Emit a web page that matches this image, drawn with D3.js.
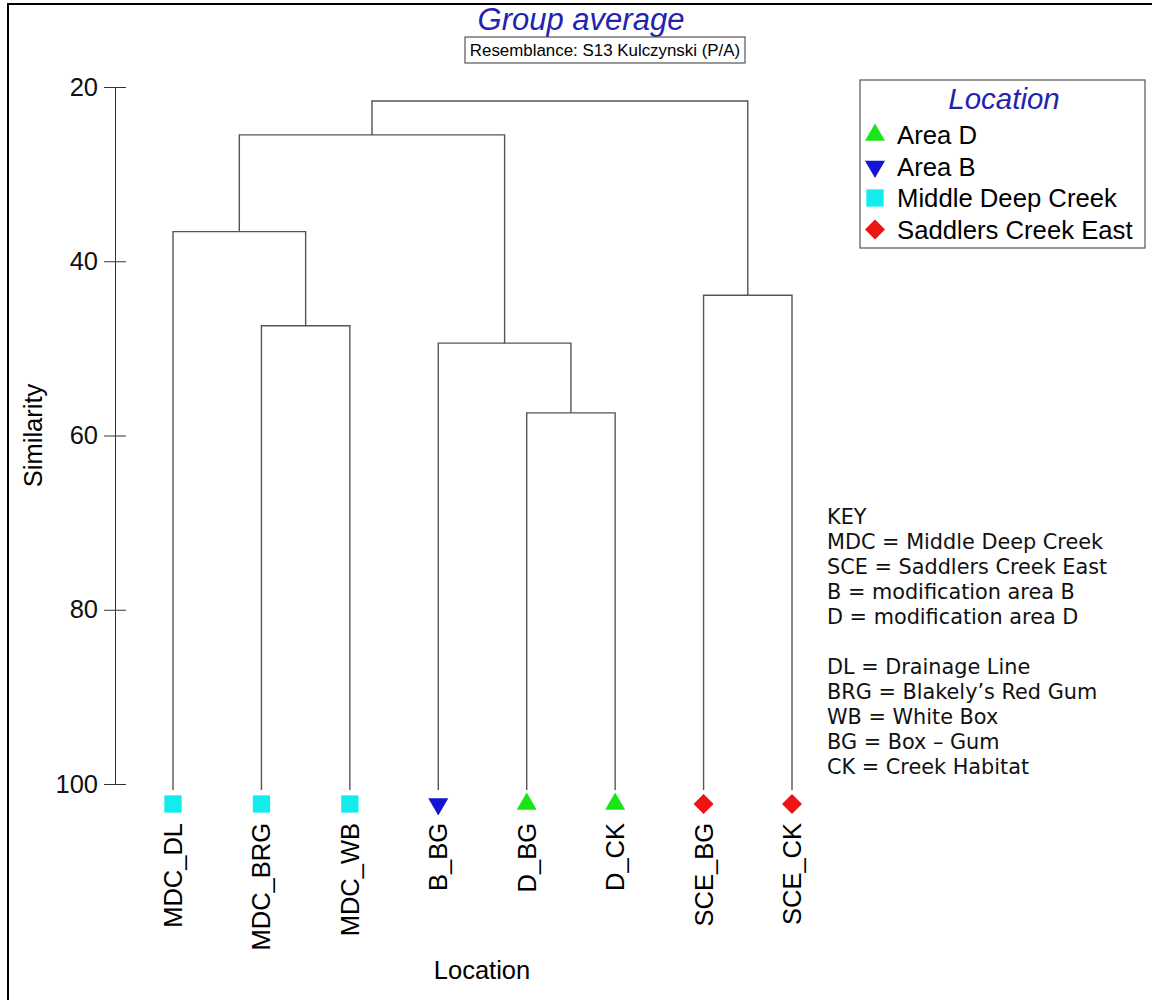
<!DOCTYPE html>
<html>
<head>
<meta charset="utf-8">
<script src="https://cdn.jsdelivr.net/npm/d3@7"></script>
<style>
  body { margin: 0; background: #fff; }
  text { font-family: "Liberation Sans", Arial, sans-serif; }
</style>
</head>
<body>
<script>
// leaves of the dendrogram, left to right
var leaves = ["MDC_DL", "MDC_BRG", "MDC_WB", "B_BG", "D_BG", "D_CK", "SCE_BG", "SCE_CK"];
var leafGroup = ["Middle Deep Creek", "Middle Deep Creek", "Middle Deep Creek", "Area B",
                 "Area D", "Area D", "Saddlers Creek East", "Saddlers Creek East"];

// merges: [left node, right node, similarity]; new nodes numbered from leaves.length
var merges = [
  [1, 2, 47.4],
  [0, 8, 36.6],
  [4, 5, 57.4],
  [3, 10, 49.4],
  [9, 11, 25.5],
  [6, 7, 43.9],
  [12, 13, 21.6]
];

var yTicks = [20, 40, 60, 80, 100];
var groups = ["Area D", "Area B", "Middle Deep Creek", "Saddlers Creek East"];
var keyLines = ["KEY", "MDC = Middle Deep Creek", "SCE = Saddlers Creek East",
  "B = modification area B", "D = modification area D", "",
  "DL = Drainage Line", "BRG = Blakely\u2019s Red Gum", "WB = White Box",
  "BG = Box \u2013 Gum", "CK = Creek Habitat"];

var svgWidth = 1152, svgHeight = 1000;

var svg = d3.select("body").append("svg")
  .attr("width", svgWidth)
  .attr("height", svgHeight);

// frame (left + top edges show in the picture)
svg.append("path")
  .attr("d", "M8,1000 V4 H1152")
  .attr("fill", "none")
  .attr("stroke", "#000")
  .attr("stroke-width", 2);

var x = d3.scalePoint().domain(leaves).range([173, 792]);
var y = d3.scaleLinear().domain([20, 100]).range([87, 784]);

var symbolFor = {
  "Area D": { type: d3.symbolTriangle, size: 175, rot: 0, color: "#19e619" },
  "Area B": { type: d3.symbolTriangle, size: 175, rot: 180, color: "#1414d2" },
  "Middle Deep Creek": { type: d3.symbolSquare, size: 300, rot: 0, color: "#14ecec" },
  "Saddlers Creek East": { type: d3.symbolSquare, size: 200, rot: 45, color: "#ee1414" }
};

// y axis
var yAxis = svg.append("g")
  .attr("transform", "translate(115,0)")
  .call(d3.axisLeft(y).tickValues(yTicks).tickSize(11).tickPadding(6).tickSizeOuter(0));
yAxis.select(".domain").attr("stroke", "#333");
yAxis.selectAll(".tick line").attr("x1", 11).attr("x2", -11).attr("stroke", "#333");
yAxis.selectAll(".tick text")
  .style("font-size", "25.5px")
  .style("font-family", "'Liberation Sans', Arial, sans-serif")
  .attr("fill", "#111");

svg.append("text")
  .attr("transform", "translate(42," + (y(60)) + ") rotate(-90)")
  .attr("text-anchor", "middle")
  .style("font-size", "25.5px")
  .text("Similarity");

// dendrogram nodes
var nodes = leaves.map(function(d, i) { return { x: x(d), h: 100 }; });
var tree = svg.append("g")
  .attr("fill", "none")
  .attr("stroke", "#555")
  .attr("stroke-width", 1.4);

merges.forEach(function(m) {
  var a = nodes[m[0]], b = nodes[m[1]], h = m[2];
  tree.append("path")
    .attr("d", "M" + a.x + "," + y(a.h) + " V" + y(h) + " H" + b.x + " V" + y(b.h));
  nodes.push({ x: (a.x + b.x) / 2, h: h });
});

// leaf ends down to the markers
tree.selectAll(".leafline")
  .data(leaves)
  .enter().append("line")
  .attr("x1", d => x(d)).attr("x2", d => x(d))
  .attr("y1", y(100)).attr("y2", y(100) + 6);

// leaf markers
svg.selectAll(".marker")
  .data(leaves)
  .enter().append("path")
  .attr("class", "marker")
  .attr("transform", (d, i) => "translate(" + x(d) + "," + (y(100) + 20) + ") rotate(" + symbolFor[leafGroup[i]].rot + ")")
  .attr("d", (d, i) => d3.symbol().type(symbolFor[leafGroup[i]].type).size(symbolFor[leafGroup[i]].size)())
  .attr("fill", (d, i) => symbolFor[leafGroup[i]].color);

// leaf labels
svg.selectAll(".leaflabel")
  .data(leaves)
  .enter().append("text")
  .attr("transform", d => "translate(" + (x(d) + 9) + ",823) rotate(-90)")
  .attr("text-anchor", "end")
  .style("font-size", "25.5px")
  .text(d => d);

svg.append("text")
  .attr("x", 482)
  .attr("y", 979)
  .attr("text-anchor", "middle")
  .style("font-size", "25.5px")
  .text("Location");

// title and resemblance box
svg.append("text")
  .attr("x", 581)
  .attr("y", 30)
  .attr("text-anchor", "middle")
  .style("font-size", "31px")
  .style("font-style", "italic")
  .attr("fill", "#2323b0")
  .text("Group average");

svg.append("rect")
  .attr("x", 465).attr("y", 37).attr("width", 280).attr("height", 26)
  .attr("fill", "#fff").attr("stroke", "#555").attr("stroke-width", 1.2);
svg.append("text")
  .attr("x", 605).attr("y", 56)
  .attr("text-anchor", "middle")
  .style("font-size", "16.9px")
  .text("Resemblance: S13 Kulczynski (P/A)");

// legend
var legend = svg.append("g");
legend.append("rect")
  .attr("x", 860).attr("y", 80).attr("width", 285).attr("height", 168)
  .attr("fill", "#fff").attr("stroke", "#555").attr("stroke-width", 1.2);
legend.append("text")
  .attr("x", 1004).attr("y", 109)
  .attr("text-anchor", "middle")
  .style("font-size", "29.5px")
  .style("font-style", "italic")
  .attr("fill", "#2323b0")
  .text("Location");

var entry = legend.selectAll(".entry")
  .data(groups)
  .enter().append("g")
  .attr("transform", (d, i) => "translate(0," + (144 + i * 31.5) + ")");
entry.append("path")
  .attr("transform", d => "translate(875,-9) rotate(" + symbolFor[d].rot + ")")
  .attr("d", d => d3.symbol().type(symbolFor[d].type).size(symbolFor[d].size)())
  .attr("fill", d => symbolFor[d].color);
entry.append("text")
  .attr("x", 897)
  .style("font-size", "25.7px")
  .text(d => d);

// key
svg.selectAll(".key")
  .data(keyLines)
  .enter().append("text")
  .attr("x", 827)
  .attr("y", (d, i) => 524 + i * 25)
  .style("font-family", "'DejaVu Sans', Verdana, sans-serif")
  .style("font-size", "20.8px")
  .attr("fill", "#111")
  .text(d => d);
</script>
</body>
</html>
